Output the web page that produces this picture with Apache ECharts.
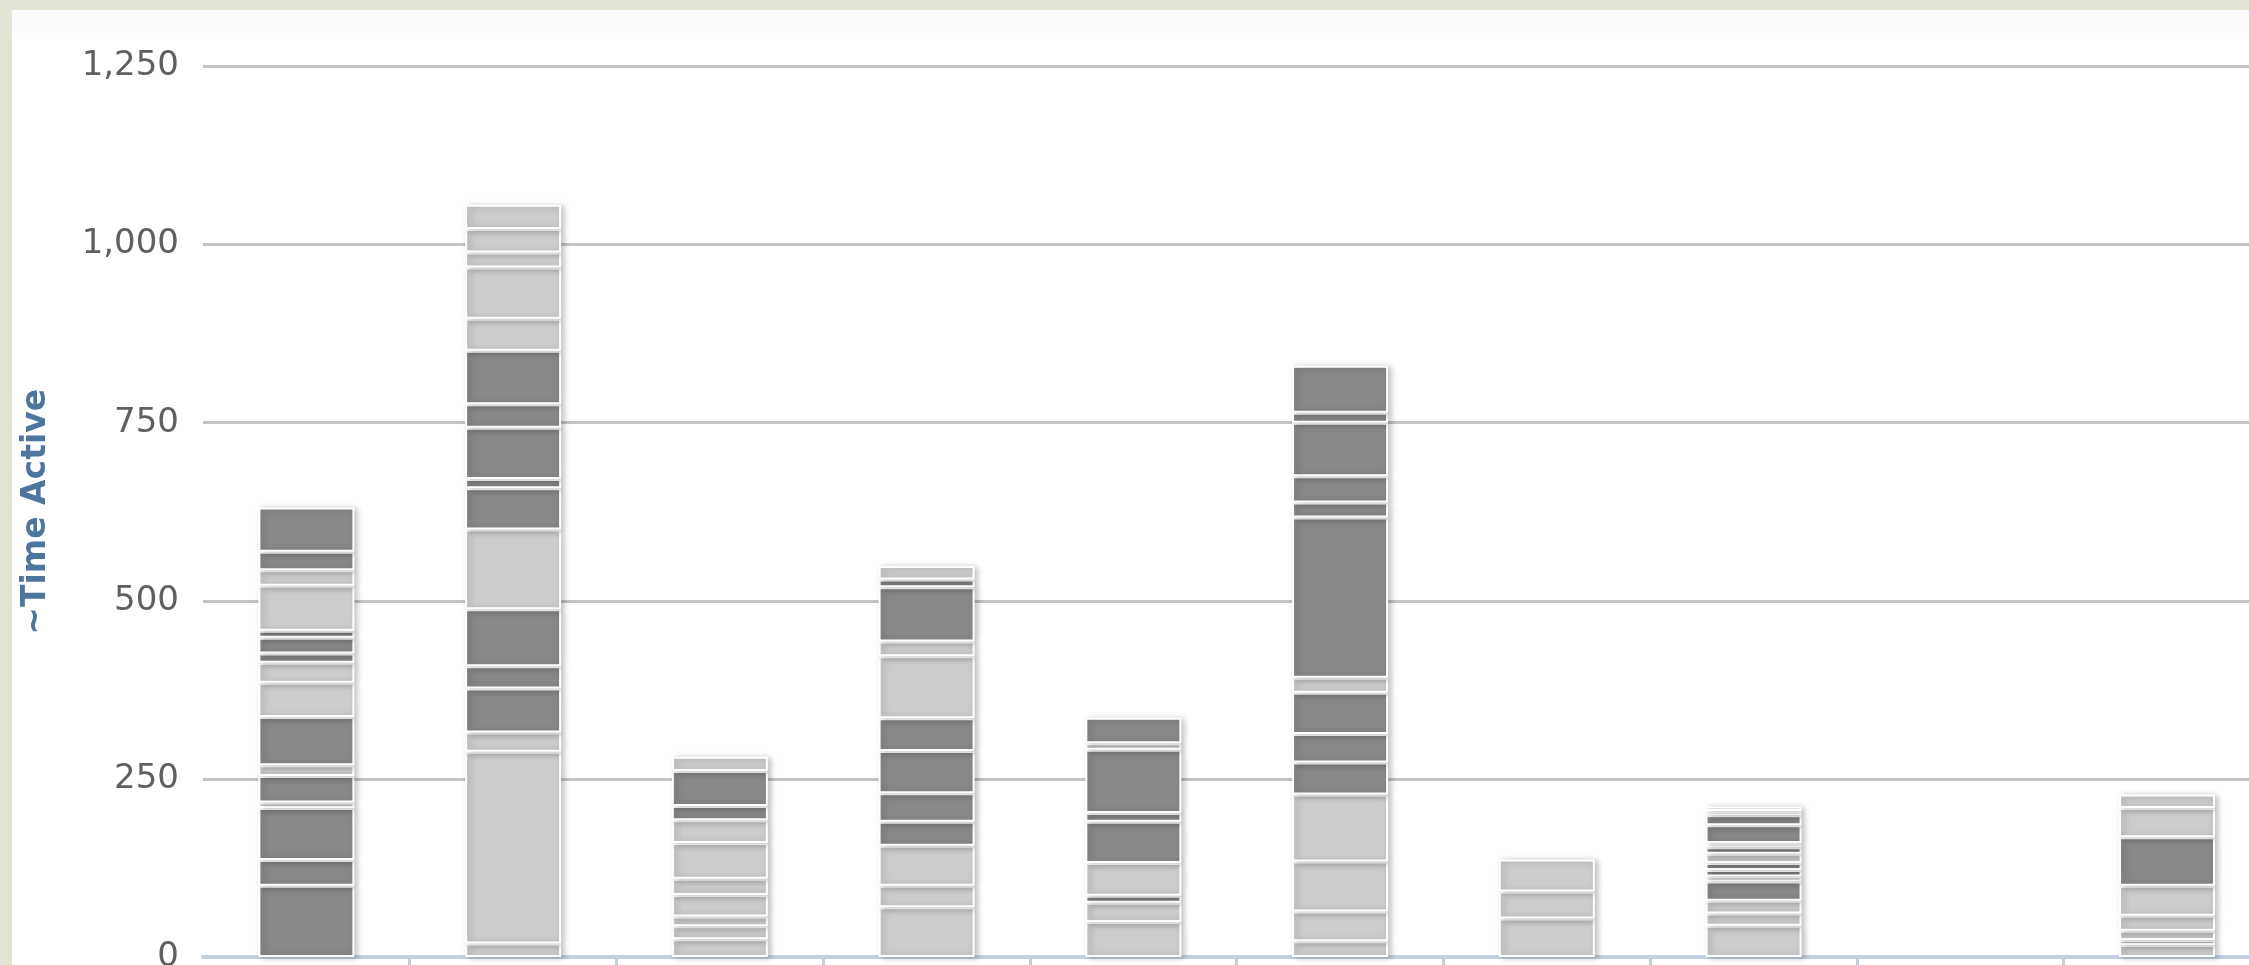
<!DOCTYPE html>
<html><head><meta charset="utf-8">
<script src="https://cdn.jsdelivr.net/npm/echarts@6/dist/echarts.min.js"></script>
<style>
html,body{margin:0;padding:0;overflow:hidden;background:#e3e3d6;width:2249px;height:965px;}
#frame{position:absolute;left:12px;top:10px;width:2300px;height:1000px;background:linear-gradient(#fbfbfb 0px,#fbfbfb 23px,#ffffff 23px);}
#chart{position:absolute;left:0;top:0;width:2300px;height:1000px;}
</style></head><body>
<div id="frame"><div id="chart"></div></div>
<script>
// Categories (labels are below the visible area in the reference)
const categories = ['1', '2', '3', '4', '5', '6', '7', '8', '9', '10'];
const yTickLabels = ['0', '250', '500', '750', '1,000', '1,250'];
const yAxisTitle = '~Time Active';

// Stacked segments of each bar, bottom to top; D = dark grey, L = light grey
const bar1 = [100, 36, 73, 8, 37, 15, 68, 48, 28, 13, 22, 10, 63, 22, 26, 62];
const shade1 = ['D','D','D','L','D','L','D','L','L','D','D','D','L','L','D','D'];
const bar2 = [19, 269, 27, 62, 31, 80, 112, 58, 13, 72, 33, 75, 45, 72, 21, 33, 34];
const shade2 = ['L','L','L','D','D','D','L','D','D','D','D','D','L','L','L','L','L'];
const bar3 = [25, 18, 14, 30, 23, 50, 32, 20, 49, 20];
const shade3 = ['L','L','L','L','L','L','L','D','D','L'];
const bar4 = [70, 30, 56, 34, 40, 59, 46, 87, 21, 76, 11, 19];
const shade4 = ['L','L','L','D','D','D','D','L','L','D','D','L'];
const bar5 = [49, 27, 10, 46, 58, 12, 89, 9, 36];
const shade5 = ['L','L','D','L','D','D','D','L','D'];
const bar6 = [22, 42, 70, 94, 45, 40, 58, 21, 225, 21, 37, 75, 14, 66];
const shade6 = ['L','L','L','L','D','D','D','L','D','D','D','D','D','D'];
const bar7 = [54, 38, 45];
const shade7 = ['L','L','L'];
const bar8 = [44, 17, 18, 27, 7, 9, 10, 13, 9, 6, 25, 14, 6, 6];
const shade8 = ['L','L','L','D','L','D','D','L','D','L','D','D','L','D'];
const bar9 = [];
const shade9 = [];
const bar10 = [17, 7, 13, 21, 42, 68, 41, 19];
const shade10 = ['L','L','L','L','L','D','L','L'];

const DARK = '#888888', LIGHT = '#cccccc';
const bars = [bar1, bar2, bar3, bar4, bar5, bar6, bar7, bar8, bar9, bar10];
const shades = [shade1, shade2, shade3, shade4, shade5, shade6, shade7, shade8, shade9, shade10];
const maxSeg = Math.max(...bars.map(b => b.length));

const series = [];
for (let k = 0; k < maxSeg; k++) {
  series.push({
    type: 'bar',
    stack: 'total',
    barWidth: 96,
    itemStyle: {
      borderColor: '#ffffff', borderWidth: 2,
      shadowColor: 'rgba(0,0,0,0.24)', shadowBlur: 6, shadowOffsetX: 3, shadowOffsetY: 1
    },
    emphasis: { disabled: true },
    data: bars.map((b, i) => k < b.length
      ? { value: b[k], itemStyle: { color: shades[i][k] === 'D' ? DARK : LIGHT } }
      : '-')
  });
}

const yVals = yTickLabels.map(s => Number(s.replace(/,/g, '')));
const chart = echarts.init(document.getElementById('chart'));
chart.setOption({
  animation: false,
  backgroundColor: 'transparent',
  grid: { left: 185.4, top: 56.5, width: 2073, height: 890.5 },
  xAxis: {
    type: 'category', data: categories,
    axisLine: { show: true, lineStyle: { color: '#c0d0e0', width: 4 } },
    axisTick: { show: true, length: 14, interval: (i) => i !== 0, lineStyle: { color: '#c0d0e0', width: 3 } },
    axisLabel: { show: false },
    splitLine: { show: false }
  },
  yAxis: {
    type: 'value', min: yVals[0], max: yVals[yVals.length - 1], interval: yVals[1] - yVals[0],
    name: yAxisTitle, nameLocation: 'middle', nameRotate: 90, nameGap: 150,
    nameTextStyle: { color: '#4d759e', fontFamily: 'DejaVu Sans', fontWeight: 'bold', fontSize: 33 },
    axisLine: { show: false }, axisTick: { show: false },
    axisLabel: {
      margin: 24, color: '#606060', fontFamily: 'DejaVu Sans', fontSize: 34,
      formatter: v => yTickLabels[yVals.indexOf(v)]
    },
    splitLine: { lineStyle: { color: '#c4c4c4', width: 3 } }
  },
  series: series
});
</script>
</body></html>
